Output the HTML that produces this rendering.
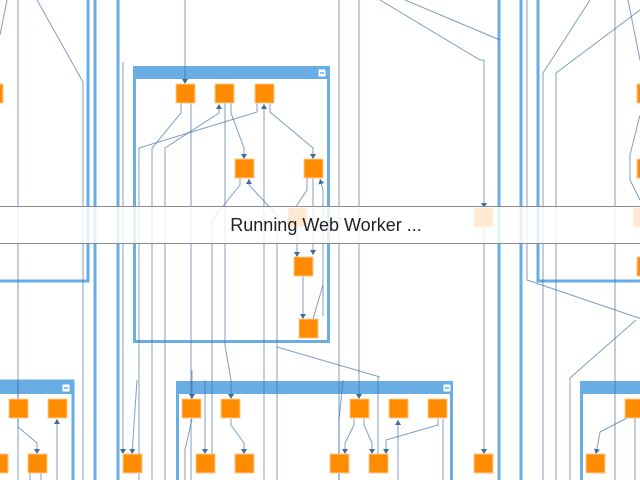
<!DOCTYPE html>
<html><head><meta charset="utf-8"><style>
html,body{margin:0;padding:0;background:#fff;width:640px;height:480px;overflow:hidden}
svg{position:absolute;left:0;top:0}
#band{position:absolute;left:0;top:206px;width:640px;height:36px;background:rgba(255,255,255,0.82);border-top:1px solid #8a8a8a;border-bottom:1px solid #8a8a8a}
#band span{position:absolute;left:0;width:652px;text-align:center;top:8px;font-family:"Liberation Sans",sans-serif;font-size:18px;color:#222}
</style></head><body>
<svg width="640" height="480" viewBox="0 0 640 480">
<defs>
<marker id="a" markerWidth="6" markerHeight="6" refX="5" refY="3" orient="auto" markerUnits="userSpaceOnUse"><path d="M0,0 L5,3 L0,6 Z" fill="#3e6a9c"/></marker>
</defs>
<g stroke="#68ade4" stroke-width="3" fill="none">
<line x1="95" y1="0" x2="95" y2="480"/>
<line x1="118" y1="0" x2="118" y2="480"/>
<line x1="499" y1="0" x2="499" y2="480"/>
<line x1="521" y1="0" x2="521" y2="480"/>
<polyline points="-5,281 88,281 88,0"/>
<polyline points="538,0 538,281 645,281"/>
</g>
<g>
<rect x="134.5" y="67.5" width="194" height="274" fill="#fff" stroke="#68ade4" stroke-width="3"/>
<rect x="133" y="66" width="197" height="13" fill="#68ade4"/>
<rect x="-5" y="381" width="78" height="110" fill="#fff" stroke="#68ade4" stroke-width="3"/>
<rect x="-5" y="381" width="78" height="13" fill="#68ade4"/>
<rect x="177.5" y="382.5" width="274" height="110" fill="#fff" stroke="#68ade4" stroke-width="3"/>
<rect x="176" y="381" width="277" height="13" fill="#68ade4"/>
<rect x="581.5" y="382.5" width="70" height="110" fill="#fff" stroke="#68ade4" stroke-width="3"/>
<rect x="580" y="381" width="70" height="13" fill="#68ade4"/>
<g fill="#fff" stroke="#68ade4"><rect x="318" y="69" width="8" height="8"/><rect x="62" y="384" width="8" height="8"/><rect x="443" y="384" width="8" height="8"/></g>
<g stroke="#68ade4" stroke-width="1.5"><line x1="320" y1="73" x2="324" y2="73"/><line x1="64" y1="388" x2="68" y2="388"/><line x1="445" y1="388" x2="449" y2="388"/></g>
</g>
<g stroke="#3e6a9c" stroke-opacity="0.65" stroke-width="1" fill="none">
<line x1="18" y1="0" x2="18" y2="480"/>
<polyline points="7,0 0,35"/>
<polyline points="37,0 83,82 83,480"/>
<polyline points="123,62 123,454" marker-end="url(#a)"/>
<polyline points="185,0 185,84" marker-end="url(#a)"/>
<polyline points="181,103 181,113 152,148 152,480"/>
<polyline points="191,103 191,480"/>
<polyline points="165,480 165,148 219,113 219,104" marker-end="url(#a)"/>
<polyline points="257,103 257,112 139,148 139,480"/>
<polyline points="225,103 225,345 231,380 231,399" marker-end="url(#a)"/>
<polyline points="231,103 231,113 244,148 244,159" marker-end="url(#a)"/>
<polyline points="264,480 264,104" marker-end="url(#a)"/>
<polyline points="270,103 270,112 313,148 313,159" marker-end="url(#a)"/>
<polyline points="240,178 240,185 212,220 212,454"/>
<polyline points="277,480 277,347 380,377"/>
<polyline points="277,347 277,215 249,185 249,179" marker-end="url(#a)"/>
<polyline points="307,178 307,190 297,205 297,257" marker-end="url(#a)"/>
<polyline points="313,178 313,190 313,255" marker-end="url(#a)"/>
<polyline points="323,316 323,190 320,179" marker-end="url(#a)"/>
<polyline points="303,276 303,319" marker-end="url(#a)"/>
<polyline points="313,319 323,285"/>
<polyline points="339,0 339,480"/>
<polyline points="359,0 359,399" marker-end="url(#a)"/>
<polyline points="380,0 480,60 484,60 484,208" marker-end="url(#a)"/>
<polyline points="484,227 484,454" marker-end="url(#a)"/>
<polyline points="405,0 500,40"/>
<polyline points="527,0 527,280 630,315 645,320"/>
<polyline points="543,73 590,0"/>
<polyline points="556,73 640,10"/>
<polyline points="543,73 543,480"/>
<polyline points="556,73 556,480"/>
<polyline points="615,0 615,480"/>
<polyline points="628,0 640,60"/>
<polyline points="640,115 630,155 630,180 640,200"/>
<polyline points="636,320 570,378 570,480"/>
<polyline points="627,418 600,432 596,454" marker-end="url(#a)"/>
<polyline points="635,418 635,480"/>
<polyline points="18,380 18,399"/>
<polyline points="18,419 18,427 37,443 37,454" marker-end="url(#a)"/>
<polyline points="57,480 57,419" marker-end="url(#a)"/>
<polyline points="30,473 30,480"/><polyline points="41,473 41,480"/>
<polyline points="137,380 132,454" marker-end="url(#a)"/>
<polyline points="192,370 192,399" marker-end="url(#a)"/>
<polyline points="192,419 185,450 185,480"/>
<polyline points="205,380 205,454" marker-end="url(#a)"/>
<polyline points="231,419 231,425 244,443 244,454" marker-end="url(#a)"/>
<polyline points="339,480 339,420 343,380"/>
<polyline points="354,419 354,425 345,443 345,454" marker-end="url(#a)"/>
<polyline points="364,419 364,425 372,443 372,454" marker-end="url(#a)"/>
<polyline points="378,454 378,377"/>
<polyline points="438,419 438,425 386,440 386,454" marker-end="url(#a)"/>
<polyline points="398,480 398,420" marker-end="url(#a)"/>
<polyline points="443,419 443,480"/>
</g>
<g fill="#ff8c00" stroke="#ffc890" stroke-width="1">
<rect x="176" y="84" width="19" height="19"/><rect x="215" y="84" width="19" height="19"/><rect x="255" y="84" width="19" height="19"/>
<rect x="235" y="159" width="19" height="19"/><rect x="304" y="159" width="19" height="19"/>
<rect x="294" y="257" width="19" height="19"/><rect x="299" y="319" width="19" height="19"/>
<rect x="-16" y="84" width="19" height="19"/>
<rect x="637" y="84" width="19" height="19"/><rect x="637" y="159" width="19" height="19"/><rect x="637" y="257" width="19" height="19"/>
<rect x="9" y="399" width="19" height="19"/><rect x="48" y="399" width="19" height="19"/>
<rect x="-11" y="454" width="19" height="19"/><rect x="28" y="454" width="19" height="19"/>
<rect x="123" y="454" width="19" height="19"/>
<rect x="182" y="399" width="19" height="19"/><rect x="221" y="399" width="19" height="19"/>
<rect x="196" y="454" width="19" height="19"/><rect x="235" y="454" width="19" height="19"/>
<rect x="350" y="399" width="19" height="19"/><rect x="389" y="399" width="19" height="19"/><rect x="428" y="399" width="19" height="19"/>
<rect x="330" y="454" width="19" height="19"/><rect x="369" y="454" width="19" height="19"/>
<rect x="474" y="454" width="19" height="19"/>
<rect x="625" y="399" width="19" height="19"/><rect x="586" y="454" width="19" height="19"/>
<rect x="288" y="208" width="19" height="19"/><rect x="474" y="208" width="19" height="19"/><rect x="633" y="208" width="19" height="19"/>
</g>
</svg>
<div id="band"><span>Running Web Worker ...</span></div>
</body></html>
